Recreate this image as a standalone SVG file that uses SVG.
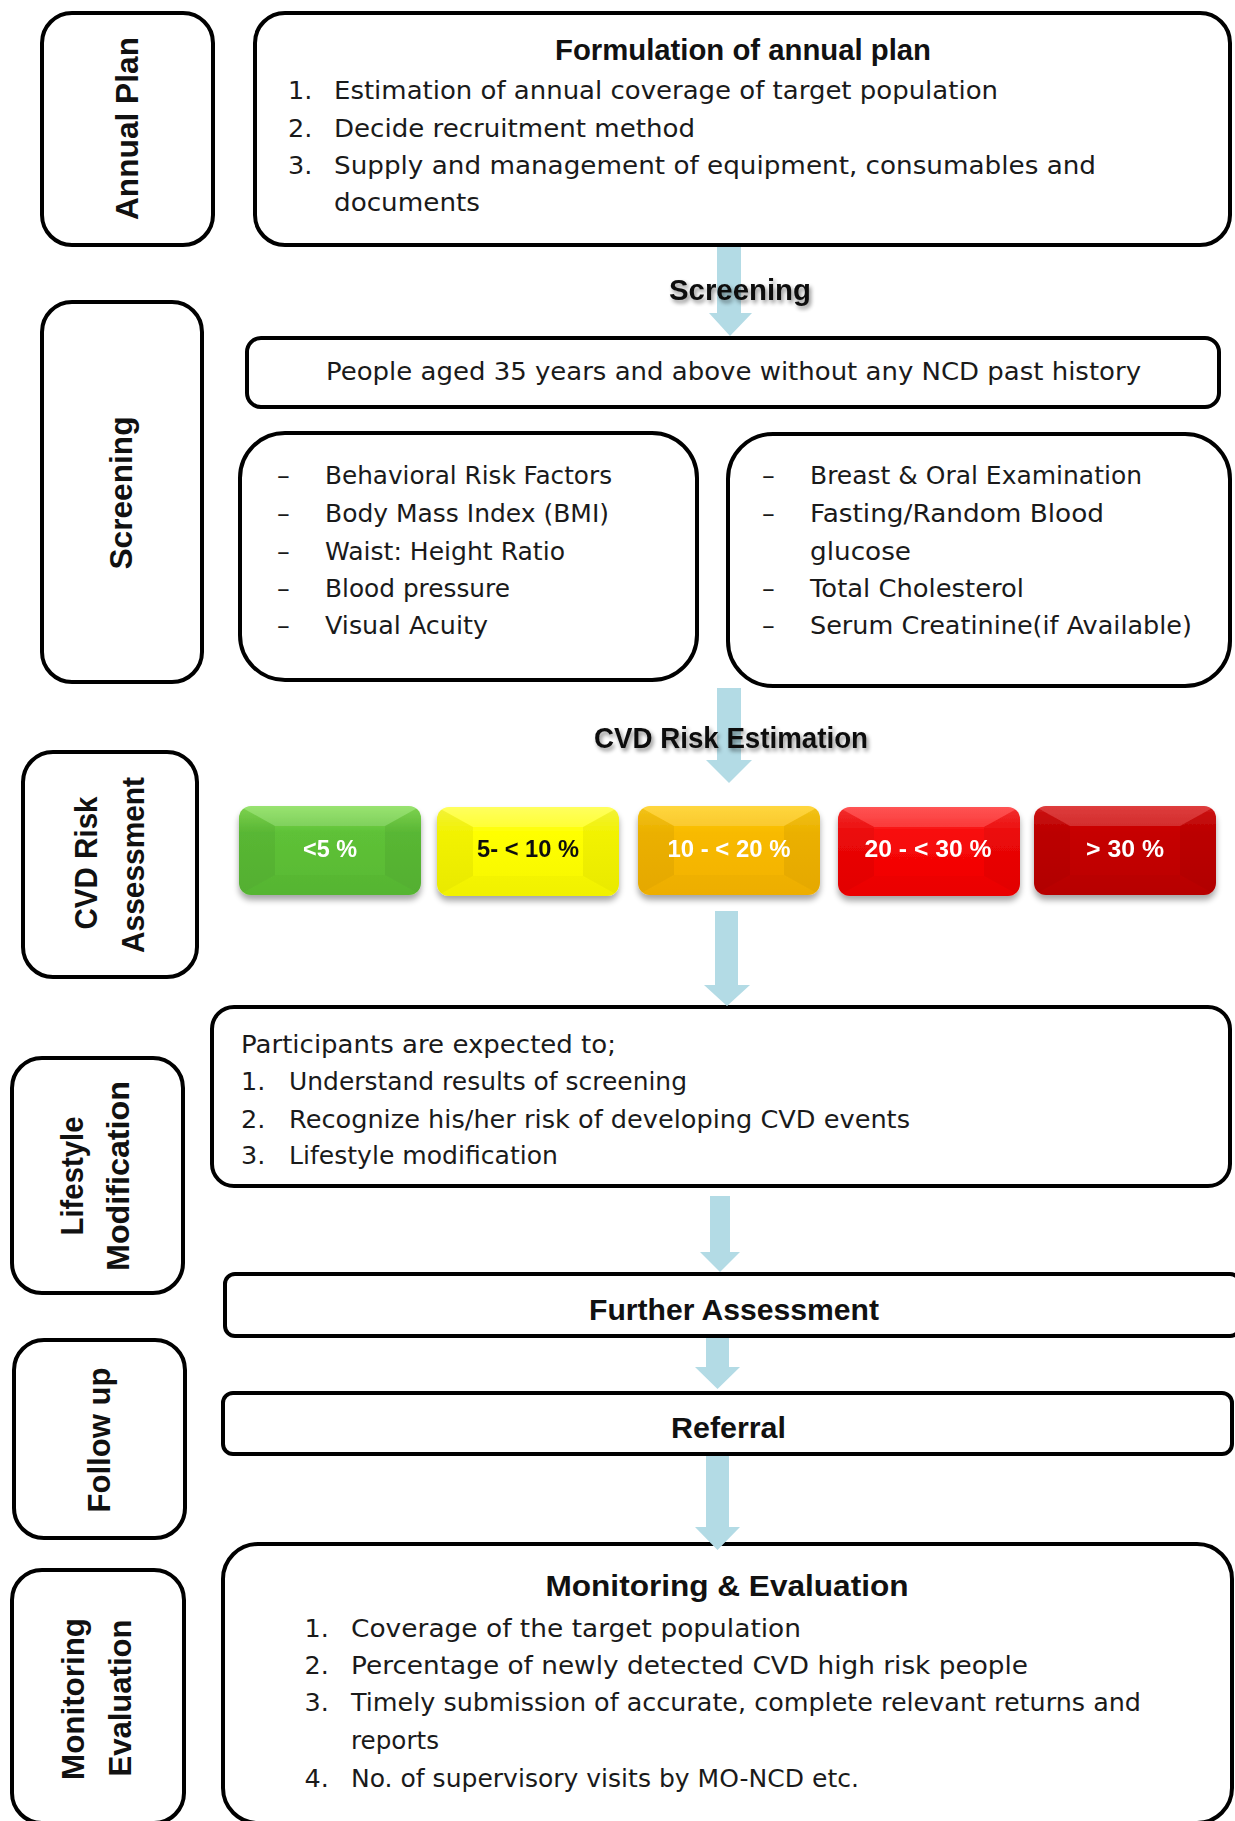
<svg xmlns="http://www.w3.org/2000/svg" width="1235" height="1821" viewBox="0 0 1235 1821">
<style>
.box{fill:#fff;stroke:#000;stroke-width:4}
.t{font-family:"DejaVu Sans",sans-serif;font-size:25.5px;fill:#1a1a1a}
.b{font-family:"Liberation Sans",Arial,sans-serif;font-weight:bold;font-size:29px;fill:#111}
.v{font-family:"Liberation Sans",Arial,sans-serif;font-weight:bold;font-size:32px;fill:#111}
.r{font-family:"Liberation Sans",Arial,sans-serif;font-weight:bold;font-size:24px;fill:#fff;text-anchor:middle}
.arrow{fill:#b3dbe5}
</style>
<defs>
<filter id="tshadow" x="-10%" y="-40%" width="125%" height="190%">
<feGaussianBlur in="SourceAlpha" stdDeviation="2"/>
<feOffset dx="2" dy="3" result="o"/>
<feComponentTransfer><feFuncA type="linear" slope="0.45"/></feComponentTransfer>
<feMerge><feMergeNode/><feMergeNode in="SourceGraphic"/></feMerge>
</filter>
<filter id="bshadow" x="-10%" y="-20%" width="120%" height="150%">
<feGaussianBlur in="SourceAlpha" stdDeviation="3"/>
<feOffset dx="0" dy="5"/>
<feComponentTransfer><feFuncA type="linear" slope="0.35"/></feComponentTransfer>
<feMerge><feMergeNode/><feMergeNode in="SourceGraphic"/></feMerge>
</filter>
<clipPath id="bevelClip"><rect x="0" y="0" width="182" height="89" rx="12"/></clipPath>
<g id="facets">
<polygon points="0,0 182,0 146,20 36,20" fill="#fff" fill-opacity="0.16"/>
<polygon points="0,0 36,20 36,69 0,89" fill="#000" fill-opacity="0.05"/>
<polygon points="182,0 146,20 146,69 182,89" fill="#000" fill-opacity="0.05"/>
<polygon points="0,89 36,69 146,69 182,89" fill="#000" fill-opacity="0.02"/>
</g>
<linearGradient id="gGreen" x1="0" y1="0" x2="0" y2="1"><stop offset="0" stop-color="#86de55"/><stop offset="0.3" stop-color="#5ec137"/><stop offset="1" stop-color="#58b933"/></linearGradient>
<linearGradient id="gYellow" x1="0" y1="0" x2="0" y2="1"><stop offset="0" stop-color="#ffff40"/><stop offset="0.3" stop-color="#ffff00"/><stop offset="1" stop-color="#f6f600"/></linearGradient>
<linearGradient id="gOrange" x1="0" y1="0" x2="0" y2="1"><stop offset="0" stop-color="#ffcf1a"/><stop offset="0.3" stop-color="#f8ba00"/><stop offset="1" stop-color="#f2b200"/></linearGradient>
<linearGradient id="gRed" x1="0" y1="0" x2="0" y2="1"><stop offset="0" stop-color="#ff3333"/><stop offset="0.3" stop-color="#f80a0a"/><stop offset="1" stop-color="#ef0000"/></linearGradient>
<linearGradient id="gDark" x1="0" y1="0" x2="0" y2="1"><stop offset="0" stop-color="#d81818"/><stop offset="0.3" stop-color="#c60000"/><stop offset="1" stop-color="#bb0000"/></linearGradient>
</defs>
<rect width="1235" height="1821" fill="#fff"/>

<!-- Phase labels -->
<g id="label-annual-plan">
<rect class="box" x="42" y="13" width="171" height="232" rx="30"/>
<text class="v" transform="translate(138,128.5) rotate(-90)" text-anchor="middle" textLength="183" lengthAdjust="spacingAndGlyphs">Annual Plan</text>
</g>
<g id="label-screening">
<rect class="box" x="42" y="302" width="160" height="380" rx="30"/>
<text class="v" transform="translate(132,493) rotate(-90)" text-anchor="middle" textLength="153" lengthAdjust="spacingAndGlyphs">Screening</text>
</g>
<g id="label-cvd">
<rect class="box" x="23" y="752" width="174" height="225" rx="30"/>
<text class="v" transform="translate(97,863) rotate(-90)" text-anchor="middle" textLength="133" lengthAdjust="spacingAndGlyphs">CVD Risk</text>
<text class="v" transform="translate(144,865) rotate(-90)" text-anchor="middle" textLength="176" lengthAdjust="spacingAndGlyphs">Assessment</text>
</g>
<g id="label-lifestyle">
<rect class="box" x="12" y="1058" width="171" height="235" rx="30"/>
<text class="v" transform="translate(83,1176) rotate(-90)" text-anchor="middle" textLength="119" lengthAdjust="spacingAndGlyphs">Lifestyle</text>
<text class="v" transform="translate(129,1176) rotate(-90)" text-anchor="middle" textLength="190" lengthAdjust="spacingAndGlyphs">Modification</text>
</g>
<g id="label-followup">
<rect class="box" x="14" y="1340" width="171" height="198" rx="30"/>
<text class="v" transform="translate(110,1440) rotate(-90)" text-anchor="middle" textLength="145" lengthAdjust="spacingAndGlyphs">Follow up</text>
</g>
<g id="label-monitoring">
<rect class="box" x="12" y="1570" width="172" height="253" rx="30"/>
<text class="v" transform="translate(84,1699) rotate(-90)" text-anchor="middle" textLength="162" lengthAdjust="spacingAndGlyphs">Monitoring</text>
<text class="v" transform="translate(130.5,1698) rotate(-90)" text-anchor="middle" textLength="157" lengthAdjust="spacingAndGlyphs">Evaluation</text>
</g>

<!-- Annual plan box -->
<g id="annual-plan">
<rect class="box" x="255" y="13" width="975" height="232" rx="30"/>
<text class="b" x="743" y="60" text-anchor="middle" textLength="376" lengthAdjust="spacingAndGlyphs">Formulation of annual plan</text>
<text class="t" x="288" y="99">1.</text>
<text class="t" x="334" y="99" textLength="664" lengthAdjust="spacingAndGlyphs">Estimation of annual coverage of target population</text>
<text class="t" x="288" y="136.5">2.</text>
<text class="t" x="334" y="136.5" textLength="361" lengthAdjust="spacingAndGlyphs">Decide recruitment method</text>
<text class="t" x="288" y="174">3.</text>
<text class="t" x="334" y="174" textLength="762" lengthAdjust="spacingAndGlyphs">Supply and management of equipment, consumables and</text>
<text class="t" x="334" y="211" textLength="146" lengthAdjust="spacingAndGlyphs">documents</text>
</g>

<!-- Screening -->
<g id="target-population">
<rect class="box" x="247" y="338" width="972" height="69" rx="14"/>
<text class="t" x="326" y="380" textLength="815" lengthAdjust="spacingAndGlyphs">People aged 35 years and above without any NCD past history</text>
</g>
<g id="screening-physical">
<rect class="box" x="240" y="433" width="457" height="247" rx="45"/>
<text class="t" x="277" y="483.5">–</text>
<text class="t" x="325" y="483.5" textLength="287" lengthAdjust="spacingAndGlyphs">Behavioral Risk Factors</text>
<text class="t" x="277" y="521.5">–</text>
<text class="t" x="325" y="521.5" textLength="284" lengthAdjust="spacingAndGlyphs">Body Mass Index (BMI)</text>
<text class="t" x="277" y="559.5">–</text>
<text class="t" x="325" y="559.5" textLength="240" lengthAdjust="spacingAndGlyphs">Waist: Height Ratio</text>
<text class="t" x="277" y="597">–</text>
<text class="t" x="325" y="597" textLength="185" lengthAdjust="spacingAndGlyphs">Blood pressure</text>
<text class="t" x="277" y="634">–</text>
<text class="t" x="325" y="634" textLength="163" lengthAdjust="spacingAndGlyphs">Visual Acuity</text>
</g>
<g id="screening-lab">
<rect class="box" x="728" y="434" width="502" height="252" rx="45"/>
<text class="t" x="762" y="484">–</text>
<text class="t" x="810" y="484" textLength="332" lengthAdjust="spacingAndGlyphs">Breast &amp; Oral Examination</text>
<text class="t" x="762" y="521.5">–</text>
<text class="t" x="810" y="521.5" textLength="294" lengthAdjust="spacingAndGlyphs">Fasting/Random Blood</text>
<text class="t" x="810" y="559.5" textLength="101" lengthAdjust="spacingAndGlyphs">glucose</text>
<text class="t" x="762" y="597">–</text>
<text class="t" x="810" y="597" textLength="214" lengthAdjust="spacingAndGlyphs">Total Cholesterol</text>
<text class="t" x="762" y="634">–</text>
<text class="t" x="810" y="634" textLength="382" lengthAdjust="spacingAndGlyphs">Serum Creatinine(if Available)</text>
</g>

<!-- Risk categories -->
<g id="risk-lt5" transform="translate(239,806)" filter="url(#bshadow)">
<rect width="182" height="89" rx="12" fill="url(#gGreen)"/>
<use href="#facets" clip-path="url(#bevelClip)"/>
<text class="r" x="91" y="51" textLength="54" lengthAdjust="spacingAndGlyphs">&lt;5 %</text>
</g>
<g id="risk-5-10" transform="translate(437,807)" filter="url(#bshadow)">
<rect width="182" height="89" rx="12" fill="url(#gYellow)"/>
<use href="#facets" clip-path="url(#bevelClip)"/>
<text class="r" x="91" y="50" style="fill:#111" textLength="102" lengthAdjust="spacingAndGlyphs">5- &lt; 10 %</text>
</g>
<g id="risk-10-20" transform="translate(638,806)" filter="url(#bshadow)">
<rect width="182" height="89" rx="12" fill="url(#gOrange)"/>
<use href="#facets" clip-path="url(#bevelClip)"/>
<text class="r" x="91" y="51" textLength="123" lengthAdjust="spacingAndGlyphs">10 - &lt; 20 %</text>
</g>
<g id="risk-20-30" transform="translate(838,807)" filter="url(#bshadow)">
<rect width="182" height="89" rx="12" fill="url(#gRed)"/>
<use href="#facets" clip-path="url(#bevelClip)"/>
<text class="r" x="90" y="50" textLength="127" lengthAdjust="spacingAndGlyphs">20 - &lt; 30 %</text>
</g>
<g id="risk-gt30" transform="translate(1034,806)" filter="url(#bshadow)">
<rect width="182" height="89" rx="12" fill="url(#gDark)"/>
<use href="#facets" clip-path="url(#bevelClip)"/>
<text class="r" x="91" y="51" textLength="78" lengthAdjust="spacingAndGlyphs">&gt; 30 %</text>
</g>

<!-- Lifestyle -->
<g id="participants">
<rect class="box" x="212" y="1007" width="1018" height="179" rx="22"/>
<text class="t" x="241" y="1052.5" textLength="375" lengthAdjust="spacingAndGlyphs">Participants are expected to;</text>
<text class="t" x="241" y="1090">1.</text>
<text class="t" x="289" y="1090" textLength="398" lengthAdjust="spacingAndGlyphs">Understand results of screening</text>
<text class="t" x="241" y="1127.5">2.</text>
<text class="t" x="289" y="1127.5" textLength="621" lengthAdjust="spacingAndGlyphs">Recognize his/her risk of developing CVD events</text>
<text class="t" x="241" y="1164">3.</text>
<text class="t" x="289" y="1164" textLength="269" lengthAdjust="spacingAndGlyphs">Lifestyle modification</text>
</g>
<g id="further-assessment">
<rect class="box" x="225" y="1274" width="1015" height="62" rx="10"/>
<text class="b" x="734" y="1320" text-anchor="middle" textLength="290" lengthAdjust="spacingAndGlyphs">Further Assessment</text>
</g>
<g id="referral">
<rect class="box" x="223" y="1393" width="1009" height="61" rx="10"/>
<text class="b" x="728.5" y="1438" text-anchor="middle" textLength="115" lengthAdjust="spacingAndGlyphs">Referral</text>
</g>
<g id="monitoring-evaluation">
<rect class="box" x="223" y="1544" width="1009" height="279" rx="35"/>
<text class="b" x="727" y="1596" text-anchor="middle" textLength="363" lengthAdjust="spacingAndGlyphs">Monitoring &amp; Evaluation</text>
<text class="t" x="304.5" y="1636.5">1.</text>
<text class="t" x="351" y="1636.5" textLength="450" lengthAdjust="spacingAndGlyphs">Coverage of the target population</text>
<text class="t" x="304.5" y="1673.5">2.</text>
<text class="t" x="351" y="1673.5" textLength="677" lengthAdjust="spacingAndGlyphs">Percentage of newly detected CVD high risk people</text>
<text class="t" x="304.5" y="1711">3.</text>
<text class="t" x="351" y="1711" textLength="790" lengthAdjust="spacingAndGlyphs">Timely submission of accurate, complete relevant returns and</text>
<text class="t" x="351" y="1749" textLength="88" lengthAdjust="spacingAndGlyphs">reports</text>
<text class="t" x="304.5" y="1786.5">4.</text>
<text class="t" x="351" y="1786.5" textLength="508" lengthAdjust="spacingAndGlyphs">No. of supervisory visits by MO-NCD etc.</text>
</g>

<!-- Connectors -->
<g id="connectors">
<polygon class="arrow" points="717,247 741,247 741,313 752,313 730,336 709,313 717,313"/>
<polygon class="arrow" points="717,688 741,688 741,760 752,760 729,783 706,760 717,760"/>
<polygon class="arrow" points="715,911 738,911 738,985 750,985 727,1006 704,985 715,985"/>
<polygon class="arrow" points="710,1196 730,1196 730,1252 740,1252 720,1272 700,1252 710,1252"/>
<polygon class="arrow" points="706,1338 729,1338 729,1367 740,1367 717.5,1389 695,1367 706,1367"/>
<polygon class="arrow" points="706,1456 729,1456 729,1527 740,1527 717.5,1550 695,1527 706,1527"/>
<text class="b" x="740" y="300" text-anchor="middle" textLength="142" lengthAdjust="spacingAndGlyphs" filter="url(#tshadow)">Screening</text>
<text class="b" x="731" y="748" text-anchor="middle" font-size="28" textLength="274" lengthAdjust="spacingAndGlyphs" filter="url(#tshadow)">CVD Risk Estimation</text>
</g>
</svg>
